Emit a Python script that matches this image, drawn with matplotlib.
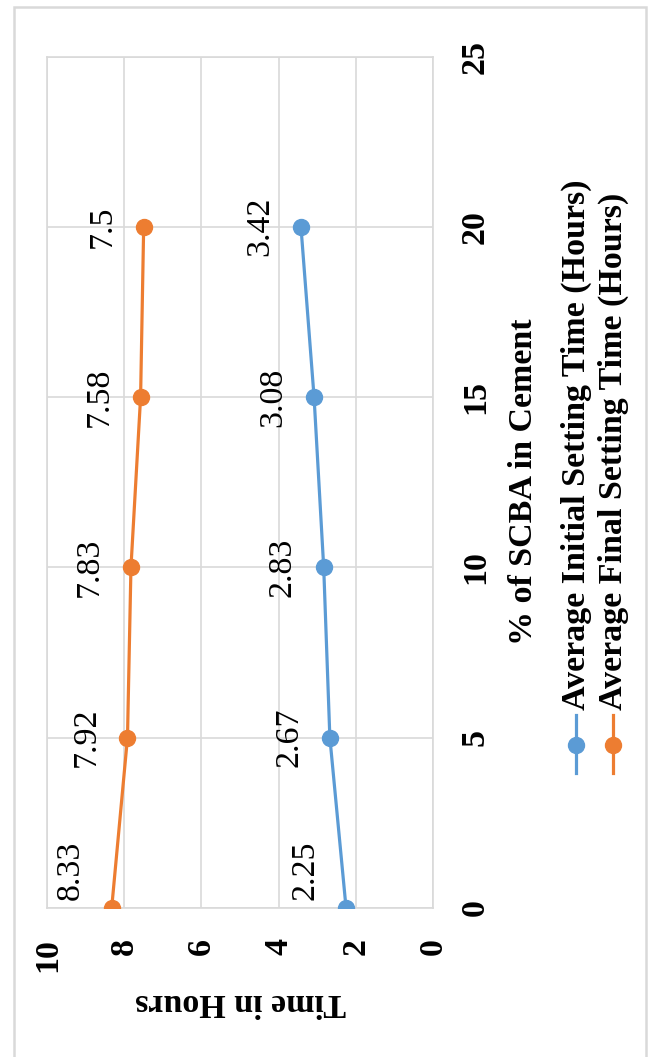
import matplotlib
matplotlib.use("Agg")
import matplotlib.pyplot as plt
from matplotlib.lines import Line2D
from matplotlib.patches import Rectangle

scba_pct = [0, 5, 10, 15, 20]
initial_time = [2.25, 2.67, 2.83, 3.08, 3.42]
final_time = [8.33, 7.92, 7.83, 7.58, 7.5]
series_names = ["Average Initial Setting Time (Hours)", "Average Final Setting Time (Hours)"]
time_ticks = [0, 2, 4, 6, 8, 10]
pct_ticks = [0, 5, 10, 15, 20, 25]

blue = "#5b9bd5"
orange = "#ed7d31"
grid_col = "#d9d9d9"
fs = 24.5

plt.rcParams["font.family"] = "Liberation Serif"

W, H = 653, 1057
fig = plt.figure(figsize=(W / 100, H / 100), dpi=100)

# the whole chart is laid out turned a quarter turn, so time runs right-to-left
# along the bottom and the SCBA percentage runs upward
left, right, top, bottom = 47.3, 432.8, 56.5, 908
ax = fig.add_axes([left / W, 1 - bottom / H, (right - left) / W, (bottom - top) / H])
ax.set_xlim(10, 0)
ax.set_ylim(0, 25)

ax.set_xticks(time_ticks)
ax.set_yticks(pct_ticks)
ax.grid(True, color=grid_col, lw=1.2)
ax.set_axisbelow(True)
for s in ax.spines.values():
    s.set_color(grid_col)
    s.set_linewidth(1.2)

ax.yaxis.tick_right()
ax.tick_params(axis="both", length=0, labelsize=fs)
ax.tick_params(axis="x", pad=21.5, labelrotation=90)
ax.tick_params(axis="y", pad=19.5, labelrotation=90)
for lab in ax.get_xticklabels():
    lab.set_fontweight("bold")
    lab.set_va("top")
    lab.set_ha("center")
for lab in ax.get_yticklabels():
    lab.set_fontweight("bold")
    lab.set_va("center")
    lab.set_ha("left")

for vals, col in [(initial_time, blue), (final_time, orange)]:
    ax.plot(vals, scba_pct, color=col, lw=2.3, marker="o", ms=11.5, zorder=3)
    for v, p in zip(vals, scba_pct):
        # labels sit beside the point; the ones on the bottom edge are kept inside the plot
        if p == 0:
            ax.annotate(f"{v:g}", (v, p), xytext=(-29.5, 6), textcoords="offset points",
                        rotation=90, ha="center", va="bottom", fontsize=fs)
        else:
            ax.annotate(f"{v:g}", (v, p), xytext=(-29.5, 0), textcoords="offset points",
                        rotation=90, ha="center", va="center", fontsize=fs)

# axis titles
fig.text(241 / W, 1 - 1003 / H, "Time in Hours", rotation=180, ha="center", va="center",
         fontsize=fs, fontweight="bold")
fig.text(524 / W, 1 - 482 / H, "% of SCBA in Cement", rotation=90, ha="center", va="center",
         fontsize=fs, fontweight="bold")

# legend, drawn by hand so it can be turned with the chart
for i, (name, col) in enumerate(zip(series_names, [blue, orange])):
    x = (576 + 37 * i) / W
    fig.add_artist(Line2D([x, x], [1 - 773 / H, 1 - 715 / H], color=col, lw=2.3,
                          transform=fig.transFigure))
    fig.add_artist(Line2D([x], [1 - 745 / H], color=col, marker="o", ms=11.5,
                          transform=fig.transFigure))
    fig.text(x, 1 - 710 / H, name, rotation=90, ha="center", va="bottom",
             fontsize=fs, fontweight="bold")

# outer chart border
fig.add_artist(Rectangle((14 / W, 1 - 1060 / H), (646 - 14) / W, (1060 - 7) / H,
                         fill=False, ec="#d9d9d9", lw=1.8, transform=fig.transFigure))

fig.savefig("out.png", dpi=100)
